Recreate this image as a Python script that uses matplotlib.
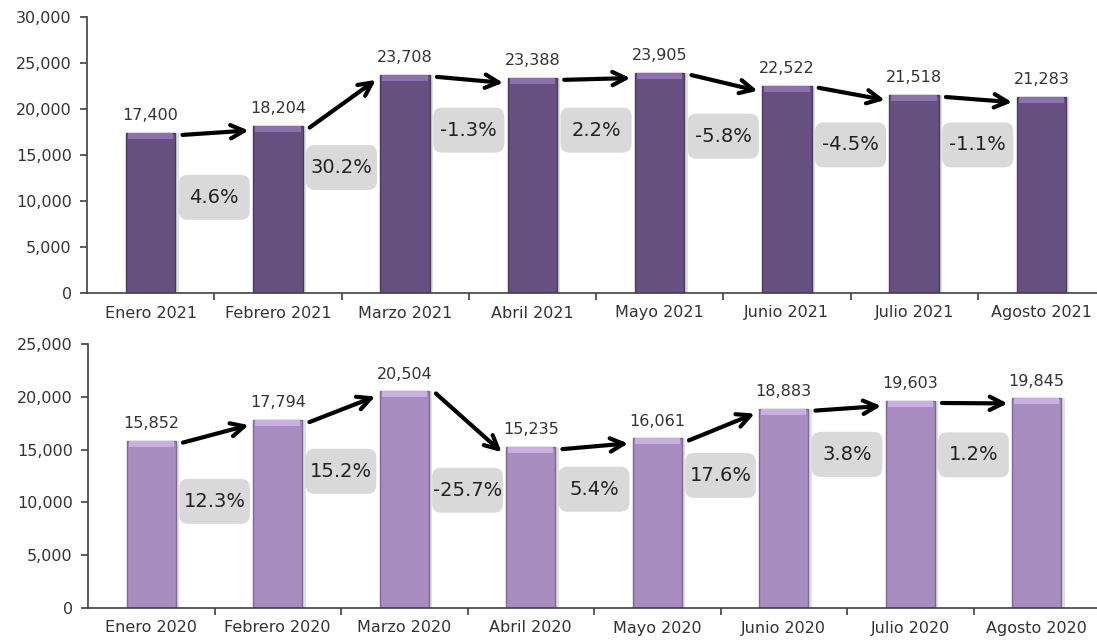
import numpy as np
import matplotlib.pyplot as plt
from matplotlib.patches import FancyBboxPatch
from matplotlib.ticker import FuncFormatter, FixedLocator

# Data
months_2021 = ['Enero 2021', 'Febrero 2021', 'Marzo 2021', 'Abril 2021',
               'Mayo 2021', 'Junio 2021', 'Julio 2021', 'Agosto 2021']
values_2021 = [17400, 18204, 23708, 23388, 23905, 22522, 21518, 21283]
pct_2021 = ['4.6%', '30.2%', '-1.3%', '2.2%', '-5.8%', '-4.5%', '-1.1%']

months_2020 = ['Enero 2020', 'Febrero 2020', 'Marzo 2020', 'Abril 2020',
               'Mayo 2020', 'Junio 2020', 'Julio 2020', 'Agosto 2020']
values_2020 = [15852, 17794, 20504, 15235, 16061, 18883, 19603, 19845]
pct_2020 = ['12.3%', '15.2%', '-25.7%', '5.4%', '17.6%', '3.8%', '1.2%']

# vertical placement of the grey percentage boxes (layout, in data units)
pct_y_2021 = [10400, 13650, 17700, 17700, 17050, 16100, 16100]
pct_y_2020 = [10100, 12950, 11150, 11250, 12550, 14550, 14500]

FONT = 'DejaVu Sans'
TXT = '#333333'
plt.rcParams['font.family'] = FONT


def draw_panel(ax, labels, values, pcts, pct_y, ymax, px_h, color, cap_color,
               edge):
    x = np.arange(len(values))
    vals = np.array(values, dtype=float)
    width = 0.39
    per_px = ymax / px_h  # data units per pixel on this axes
    # soft shadow
    ax.bar(x + 0.015, vals, width=width + 0.02, color='#000000', alpha=0.12,
           zorder=1)
    ax.bar(x, vals, width=width, color=color, edgecolor=edge, linewidth=1.0,
           zorder=2)
    cap = 6 * per_px
    ax.bar(x, np.full_like(vals, cap), bottom=vals - cap, width=width * 0.92,
           color=cap_color, linewidth=0, zorder=3)

    for xi, v in zip(x, vals):
        ax.annotate(f'{int(v):,}', (xi, v), xytext=(0, 7),
                    textcoords='offset points', ha='center', va='bottom',
                    fontsize=11.5, color=TXT)

    # arrows between consecutive bars
    for i in range(len(vals) - 1):
        ax.annotate('', xy=(i + 1 - 0.23, vals[i + 1] - 5 * per_px),
                    xytext=(i + 0.25, vals[i] - 2 * per_px),
                    arrowprops=dict(arrowstyle='->', lw=3.0, color='black',
                                    mutation_scale=24, shrinkA=0, shrinkB=0),
                    zorder=4)

    # grey rounded boxes with the monthly change
    bw = 71 / 127
    bh = 45 * per_px
    for i, (txt, yc) in enumerate(zip(pcts, pct_y)):
        box = FancyBboxPatch((i + 0.5 - bw / 2, yc - bh / 2), bw, bh,
                             boxstyle='round,pad=0,rounding_size=0.07',
                             mutation_aspect=127 * per_px,
                             fc='#D9D9D9', ec='none', zorder=5)
        ax.add_patch(box)
        ax.text(i + 0.5, yc, txt, ha='center', va='center', fontsize=14,
                color='#222222', zorder=6)

    ax.set_xlim(-0.5, len(vals) - 0.5)
    ax.set_ylim(0, ymax)
    ax.set_yticks(np.arange(0, ymax + 1, 5000))
    ax.yaxis.set_major_formatter(FuncFormatter(lambda v, p: f'{int(v):,}'))
    ax.set_xticks(x)
    ax.set_xticklabels(labels)
    ax.xaxis.set_minor_locator(FixedLocator(x[:-1] + 0.5))
    ax.tick_params(axis='x', which='major', length=0, pad=9, labelsize=11.5,
                   labelcolor=TXT)
    ax.tick_params(axis='x', which='minor', length=5, width=1.2,
                   color='#404040')
    ax.tick_params(axis='y', length=5, width=1.2, color='#404040', pad=6,
                   labelsize=11.5, labelcolor=TXT)
    for s in ['top', 'right']:
        ax.spines[s].set_visible(False)
    for s in ['left', 'bottom']:
        ax.spines[s].set_color('#404040')
        ax.spines[s].set_linewidth(1.2)


fig = plt.figure(figsize=(10.97, 6.42), dpi=100)
ax1 = fig.add_axes([87 / 1097, 1 - 293 / 642, (1105 - 87) / 1097, 276 / 642])
ax2 = fig.add_axes([88 / 1097, 1 - 608 / 642, (1100 - 88) / 1097, 264 / 642])

draw_panel(ax1, months_2021, values_2021, pct_2021, pct_y_2021, 30000, 276,
           '#65507F', '#8B72AE', '#4A3A5E')
draw_panel(ax2, months_2020, values_2020, pct_2020, pct_y_2020, 25000, 264,
           '#A68CBF', '#C8B0E2', '#7E6897')

plt.savefig('out.png', dpi=100)
